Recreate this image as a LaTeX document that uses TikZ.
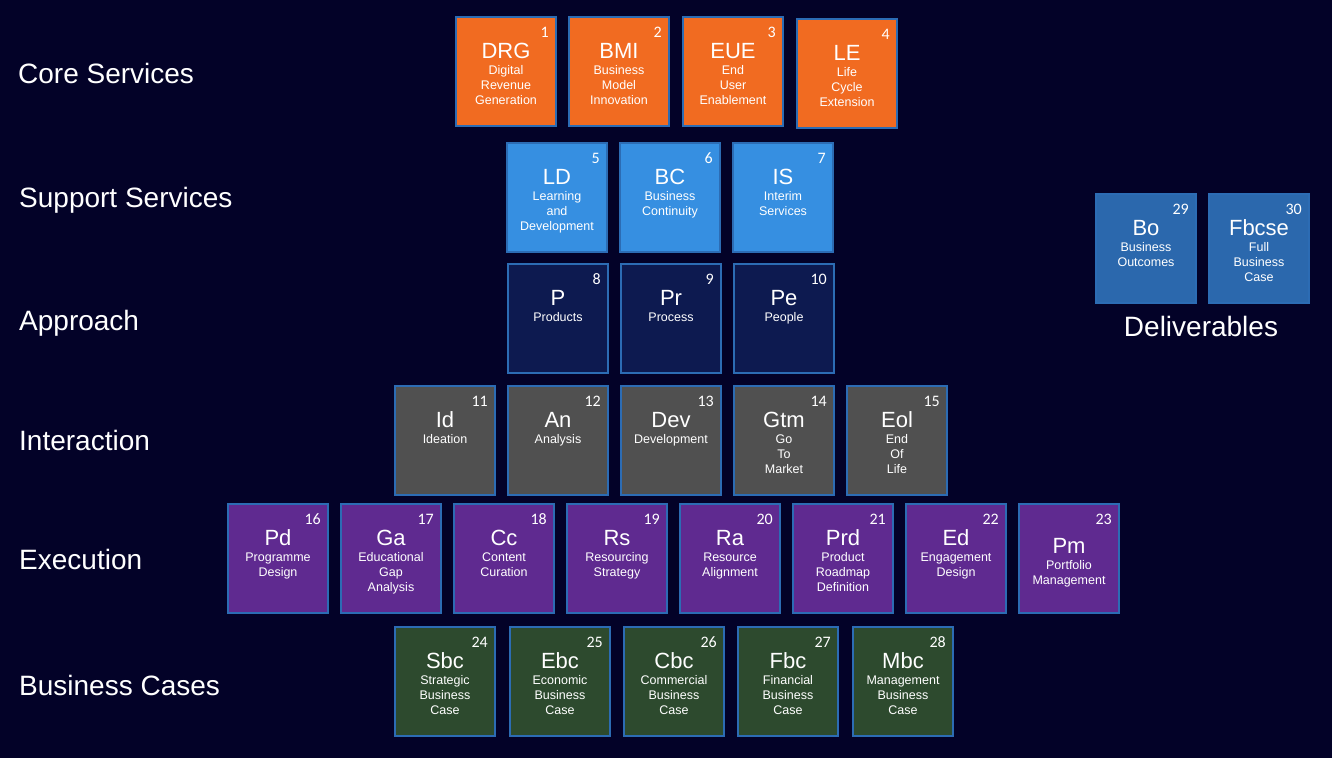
\documentclass[tikz,border=0pt]{standalone}
\usepackage{fontspec}
\setmainfont{Liberation Sans}
\newfontfamily\numfont{Carlito}
\definecolor{bgnavy}{RGB}{3,2,40}
\definecolor{corecol}{RGB}{241,107,33}
\definecolor{suppcol}{RGB}{54,143,225}
\definecolor{apprcol}{RGB}{13,26,80}
\definecolor{intcol}{RGB}{80,80,80}
\definecolor{execcol}{RGB}{95,42,144}
\definecolor{bcasecol}{RGB}{45,74,46}
\definecolor{delcol}{RGB}{43,104,173}
\definecolor{tileborder}{RGB}{44,108,180}
\tikzset{
  tilebox/.style={draw=tileborder, line width=1.2pt, minimum width=100pt, minimum height=109pt, inner sep=0pt, outer sep=0pt},
  numtxt/.style={text=white, font=\numfont\fontsize{16}{18}\selectfont, inner sep=0pt},
  abbrtxt/.style={text=white, font=\fontsize{22}{24}\selectfont, inner sep=0pt},
  subtxt/.style={text=white, font=\fontsize{12.5}{15}\selectfont, inner sep=0pt},
  rowlabel/.style={text=white, font=\fontsize{28}{32}\selectfont, inner sep=0pt}
}
% #1 name, #2 x, #3 y, #4 fill, #5 number, #6 abbreviation, #7 subtitle, #8 extra offset
\newcommand\tilecell[8]{%
  \node[tilebox, fill=#4, anchor=north west] (#1) at (#2,#3) {};
  \node[numtxt, anchor=base east] (#1n) at ([xshift=-7pt,yshift=-20pt]#1.north east) {#5};
  \node[abbrtxt, anchor=base] (#1a) at ([yshift={-(41+#8)*1pt}]#1.north) {#6};
  \node[subtxt, anchor=base] (#1s) at ([yshift={-(57.5+#8)*1pt}]#1.north)
    {\begin{tabular}[t]{@{}c@{}}#7\end{tabular}};
}
\begin{document}
\begin{tikzpicture}[x=1pt,y=-1pt]
\fill[bgnavy] (0,0) rectangle (1332,758);
\useasboundingbox (0,0) rectangle (1332,758);
% row labels
\node[rowlabel, anchor=base west] (lcore) at (18,83) {Core Services};
\node[rowlabel, anchor=base west] (lsupp) at (19,207) {Support Services};
\node[rowlabel, anchor=base west] (lappr) at (19,330) {Approach};
\node[rowlabel, anchor=base west] (lint) at (19,450) {Interaction};
\node[rowlabel, anchor=base west] (lexec) at (19,569) {Execution};
\node[rowlabel, anchor=base west] (lbc) at (19,695) {Business Cases};
\node[rowlabel, anchor=base] (ldel) at (1201,336) {Deliverables};
% core services
\tilecell{t1}{456}{17}{corecol}{1}{DRG}{Digital\\Revenue\\Generation}{0}
\tilecell{t2}{569}{17}{corecol}{2}{BMI}{Business\\Model\\Innovation}{0}
\tilecell{t3}{683}{17}{corecol}{3}{EUE}{End\\User\\Enablement}{0}
\tilecell{t4}{797}{19}{corecol}{4}{LE}{Life\\Cycle\\Extension}{0}
% support services
\tilecell{t5}{507}{143}{suppcol}{5}{LD}{Learning\\and\\Development}{0}
\tilecell{t6}{620}{143}{suppcol}{6}{BC}{Business\\Continuity}{0}
\tilecell{t7}{733}{143}{suppcol}{7}{IS}{Interim\\Services}{0}
% approach
\tilecell{t8}{508}{264}{apprcol}{8}{P}{Products}{0}
\tilecell{t9}{621}{264}{apprcol}{9}{Pr}{Process}{0}
\tilecell{t10}{734}{264}{apprcol}{10}{Pe}{People}{0}
% interaction
\tilecell{t11}{395}{386}{intcol}{11}{Id}{Ideation}{0}
\tilecell{t12}{508}{386}{intcol}{12}{An}{Analysis}{0}
\tilecell{t13}{621}{386}{intcol}{13}{Dev}{Development}{0}
\tilecell{t14}{734}{386}{intcol}{14}{Gtm}{Go\\To\\Market}{0}
\tilecell{t15}{847}{386}{intcol}{15}{Eol}{End\\Of\\Life}{0}
% execution
\tilecell{t16}{228}{504}{execcol}{16}{Pd}{Programme\\Design}{0}
\tilecell{t17}{341}{504}{execcol}{17}{Ga}{Educational\\Gap\\Analysis}{0}
\tilecell{t18}{454}{504}{execcol}{18}{Cc}{Content\\Curation}{0}
\tilecell{t19}{567}{504}{execcol}{19}{Rs}{Resourcing\\Strategy}{0}
\tilecell{t20}{680}{504}{execcol}{20}{Ra}{Resource\\Alignment}{0}
\tilecell{t21}{793}{504}{execcol}{21}{Prd}{Product\\Roadmap\\Definition}{0}
\tilecell{t22}{906}{504}{execcol}{22}{Ed}{Engagement\\Design}{0}
\tilecell{t23}{1019}{504}{execcol}{23}{Pm}{Portfolio\\Management}{8}
% business cases
\tilecell{t24}{395}{627}{bcasecol}{24}{Sbc}{Strategic\\Business\\Case}{0}
\tilecell{t25}{510}{627}{bcasecol}{25}{Ebc}{Economic\\Business\\Case}{0}
\tilecell{t26}{624}{627}{bcasecol}{26}{Cbc}{Commercial\\Business\\Case}{0}
\tilecell{t27}{738}{627}{bcasecol}{27}{Fbc}{Financial\\Business\\Case}{0}
\tilecell{t28}{853}{627}{bcasecol}{28}{Mbc}{Management\\Business\\Case}{0}
% deliverables
\tilecell{t29}{1096}{194}{delcol}{29}{Bo}{Business\\Outcomes}{0}
\tilecell{t30}{1209}{194}{delcol}{30}{Fbcse}{Full\\Business\\Case}{0}
\end{tikzpicture}
\end{document}
